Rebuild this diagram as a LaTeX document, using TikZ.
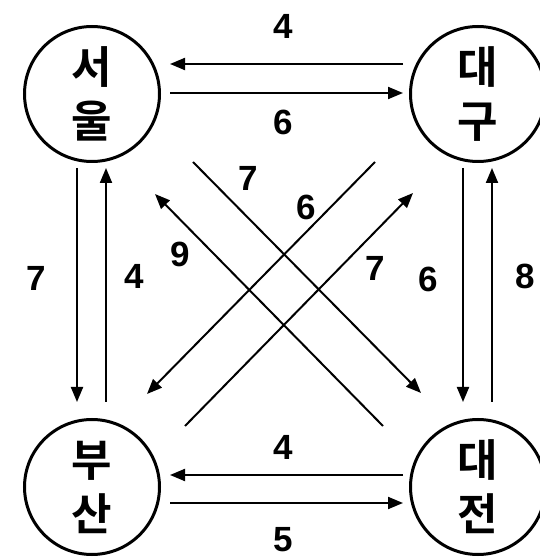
\documentclass[tikz,border=0pt]{standalone}
\usepackage{fontspec}
\setmainfont{Liberation Sans}
\newfontfamily\krfont{Noto Sans CJK KR}[BoldFont={Noto Sans CJK KR Bold}]
\usetikzlibrary{arrows.meta,calc}
\begin{document}
\begin{tikzpicture}[x=1pt,y=1pt,
  city/.style={circle,draw,line width=3pt,minimum size=135pt,inner sep=0pt,
    font=\krfont\bfseries\fontsize{44}{54}\selectfont,align=center},
  arr/.style={line width=2pt,-{Triangle[length=15pt,width=12pt]}},
  num/.style={font=\bfseries\fontsize{35}{35}\selectfont,inner sep=0pt}]
\useasboundingbox (0,0) rectangle (539,560);
\node[city] (S) at (92,466) {서\\울};
\node[city] (D) at (478,466) {대\\구};
\node[city] (B) at (92,73) {부\\산};
\node[city] (J) at (478,73) {대\\전};
% horizontal
\draw[arr] ($(D)+(-75,30)$) -- ($(S)+(78,30)$);
\draw[arr] ($(S)+(78,1)$) -- ($(D)+(-75,1)$);
\draw[arr] ($(J)+(-75,12)$) -- ($(B)+(78,12)$);
\draw[arr] ($(B)+(78,-16)$) -- ($(J)+(-75,-16)$);
% vertical
\draw[arr] ($(S)+(-15,-74)$) -- ($(B)+(-15,85)$);
\draw[arr] ($(B)+(14,85)$) -- ($(S)+(14,-74)$);
\draw[arr] ($(D)+(-15,-74)$) -- ($(J)+(-15,85)$);
\draw[arr] ($(J)+(14,85)$) -- ($(D)+(14,-74)$);
% diagonals
\draw[arr] ($(S)+(101,-68)$) -- ($(J)+(-57,94)$);
\draw[arr] ($(J)+(-95,61)$) -- ($(S)+(63,-100)$);
\draw[arr] ($(D)+(-103,-68)$) -- ($(B)+(55,93)$);
\draw[arr] ($(B)+(93,61)$) -- ($(D)+(-65,-99)$);
% labels
\node[num] (l1) at (283,534) {4};
\node[num] (l2) at (283,438) {6};
\node[num] (l3) at (283,113) {4};
\node[num] (l4) at (283,20) {5};
\node[num] (l5) at (36,282) {7};
\node[num] (l6) at (134,284) {4};
\node[num] (l7) at (180,306) {9};
\node[num] (l8) at (248,382) {7};
\node[num] (l9) at (306,353) {6};
\node[num] (l10) at (375,292) {7};
\node[num] (l11) at (428,281) {6};
\node[num] (l12) at (525,284) {8};
\end{tikzpicture}
\end{document}
